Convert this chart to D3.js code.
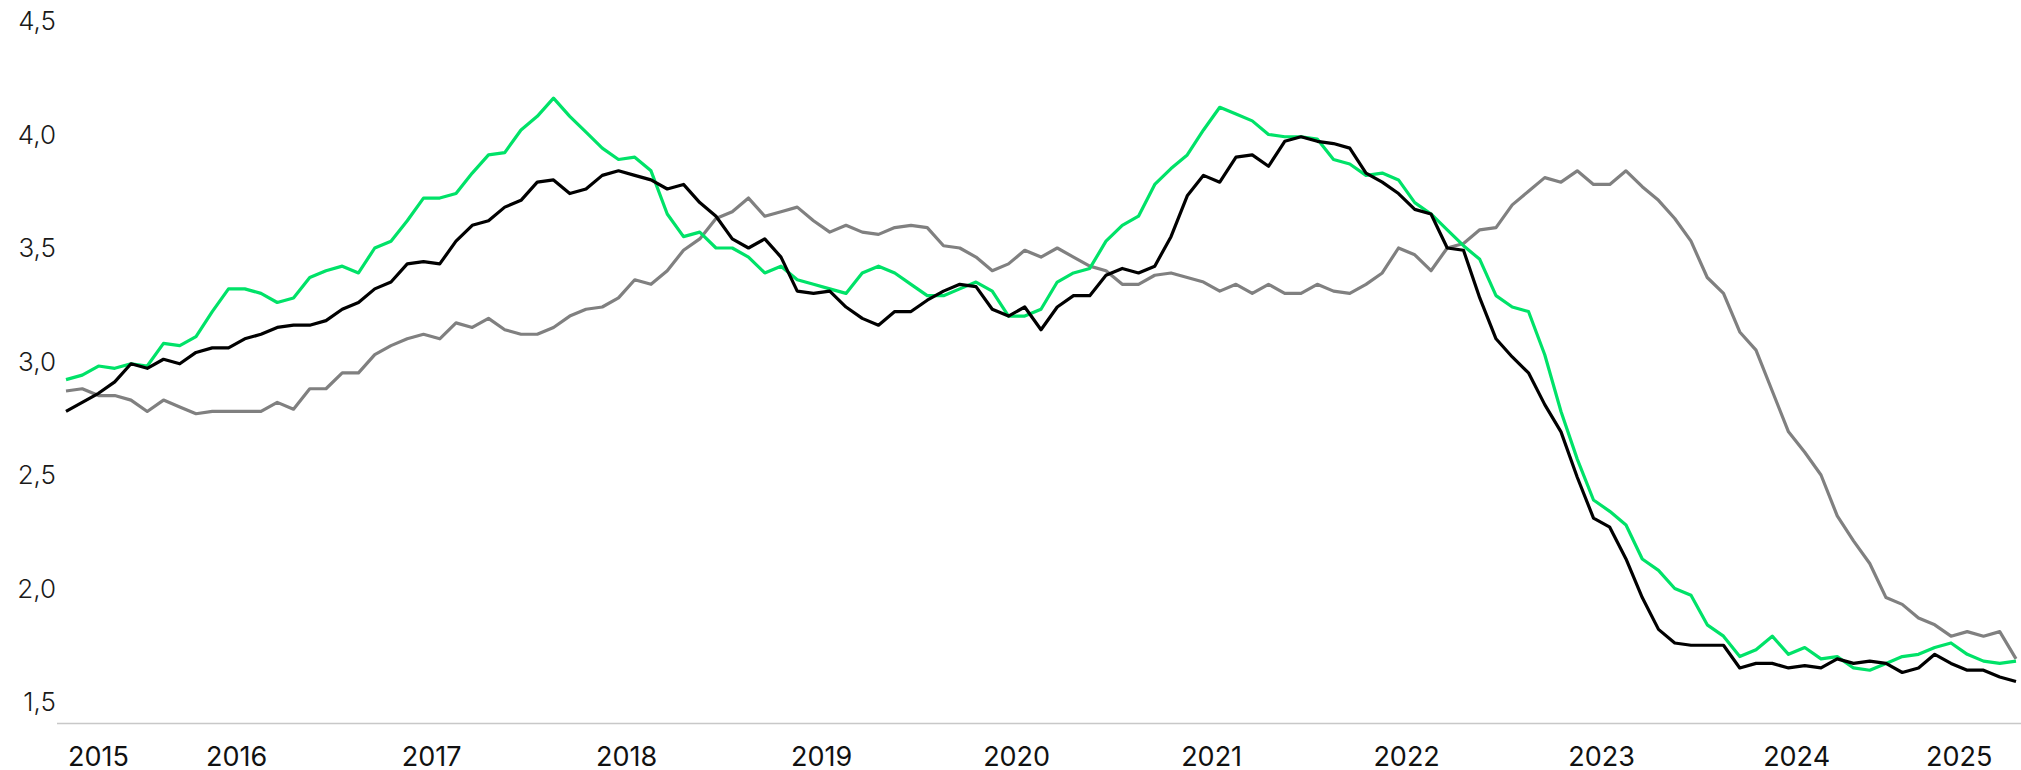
<!DOCTYPE html>
<html>
<head>
<meta charset="utf-8">
<script src="https://cdn.jsdelivr.net/npm/d3@7"></script>
<style>
  body { margin: 0; background: #fff; }
  svg { display: block; }
  .ylab { font-family: Inter, "Noto Sans", sans-serif; font-weight: 300; font-size: 26px; fill: #1a1a1a; }
  .xlab { font-family: Inter, "Noto Sans", sans-serif; font-weight: 400; font-size: 27px; fill: #111; }
</style>
</head>
<body>
<div id="chart"></div>
<script>
// monthly, Aug 2015 .. Aug 2025
const startMonth = "2015-08";
const years = ["2015", "2016", "2017", "2018", "2019", "2020", "2021", "2022", "2023", "2024", "2025"];
const yTicks = [1.5, 2.0, 2.5, 3.0, 3.5, 4.0, 4.5];

const greenSeries = [
  2.92, 2.94, 2.98, 2.97, 2.99, 2.98, 3.08, 3.07, 3.11, 3.22, 3.32, 3.32, 3.30, 3.26, 3.28, 3.37,
  3.40, 3.42, 3.39, 3.50, 3.53, 3.62, 3.72, 3.72, 3.74, 3.83, 3.91, 3.92, 4.02, 4.08, 4.16, 4.08,
  4.01, 3.94, 3.89, 3.90, 3.84, 3.65, 3.55, 3.57, 3.50, 3.50, 3.46, 3.39, 3.42, 3.36, 3.34, 3.32,
  3.30, 3.39, 3.42, 3.39, 3.34, 3.29, 3.29, 3.32, 3.35, 3.31, 3.20, 3.20, 3.23, 3.35, 3.39, 3.41,
  3.53, 3.60, 3.64, 3.78, 3.85, 3.91, 4.02, 4.12, 4.09, 4.06, 4.00, 3.99, 3.99, 3.98, 3.89, 3.87,
  3.82, 3.83, 3.80, 3.70, 3.65, 3.58, 3.51, 3.45, 3.29, 3.24, 3.22, 3.03, 2.78, 2.57, 2.39, 2.34,
  2.28, 2.13, 2.08, 2.00, 1.97, 1.84, 1.79, 1.70, 1.73, 1.79, 1.71, 1.74, 1.69, 1.70, 1.65, 1.64,
  1.67, 1.70, 1.71, 1.74, 1.76, 1.71, 1.68, 1.67, 1.68
];

const blackSeries = [
  2.78, 2.82, 2.86, 2.91, 2.99, 2.97, 3.01, 2.99, 3.04, 3.06, 3.06, 3.10, 3.12, 3.15, 3.16, 3.16,
  3.18, 3.23, 3.26, 3.32, 3.35, 3.43, 3.44, 3.43, 3.53, 3.60, 3.62, 3.68, 3.71, 3.79, 3.80, 3.74,
  3.76, 3.82, 3.84, 3.82, 3.80, 3.76, 3.78, 3.70, 3.64, 3.54, 3.50, 3.54, 3.46, 3.31, 3.30, 3.31,
  3.24, 3.19, 3.16, 3.22, 3.22, 3.27, 3.31, 3.34, 3.33, 3.23, 3.20, 3.24, 3.14, 3.24, 3.29, 3.29,
  3.38, 3.41, 3.39, 3.42, 3.55, 3.73, 3.82, 3.79, 3.90, 3.91, 3.86, 3.97, 3.99, 3.97, 3.96, 3.94,
  3.83, 3.79, 3.74, 3.67, 3.65, 3.50, 3.49, 3.28, 3.10, 3.02, 2.95, 2.81, 2.69, 2.49, 2.31, 2.27,
  2.13, 1.96, 1.82, 1.76, 1.75, 1.75, 1.75, 1.65, 1.67, 1.67, 1.65, 1.66, 1.65, 1.69, 1.67, 1.68,
  1.67, 1.63, 1.65, 1.71, 1.67, 1.64, 1.64, 1.61, 1.59
];

const greySeries = [
  2.87, 2.88, 2.85, 2.85, 2.83, 2.78, 2.83, 2.80, 2.77, 2.78, 2.78, 2.78, 2.78, 2.82, 2.79, 2.88,
  2.88, 2.95, 2.95, 3.03, 3.07, 3.10, 3.12, 3.10, 3.17, 3.15, 3.19, 3.14, 3.12, 3.12, 3.15, 3.20,
  3.23, 3.24, 3.28, 3.36, 3.34, 3.40, 3.49, 3.54, 3.63, 3.66, 3.72, 3.64, 3.66, 3.68, 3.62, 3.57,
  3.60, 3.57, 3.56, 3.59, 3.60, 3.59, 3.51, 3.50, 3.46, 3.40, 3.43, 3.49, 3.46, 3.50, 3.46, 3.42,
  3.40, 3.34, 3.34, 3.38, 3.39, 3.37, 3.35, 3.31, 3.34, 3.30, 3.34, 3.30, 3.30, 3.34, 3.31, 3.30,
  3.34, 3.39, 3.50, 3.47, 3.40, 3.50, 3.52, 3.58, 3.59, 3.69, 3.75, 3.81, 3.79, 3.84, 3.78, 3.78,
  3.84, 3.77, 3.71, 3.63, 3.53, 3.37, 3.30, 3.13, 3.05, 2.87, 2.69, 2.60, 2.50, 2.32, 2.21, 2.11,
  1.96, 1.93, 1.87, 1.84, 1.79, 1.81, 1.79, 1.81, 1.69
];

const width = 2021, height = 770;
const parseMonth = d3.utcParse("%Y-%m");
const start = parseMonth(startMonth);
const dates = greenSeries.map((d, i) => d3.utcMonth.offset(start, i));

const x = d3.scalePoint()
    .domain(dates.map(d => +d))
    .range([66, 2016]);

const y = d3.scaleLinear()
    .domain([1.5, 4.5])
    .range([702, 21]);

const svg = d3.select("#chart")
  .append("svg")
    .attr("width", width)
    .attr("height", height);

// baseline
svg.append("line")
    .attr("x1", 57)
    .attr("x2", width)
    .attr("y1", y(1.5) + 21.5)
    .attr("y2", y(1.5) + 21.5)
    .attr("stroke", "#c8c8c8")
    .attr("stroke-width", 1.5);

// y labels
const fmt = d3.format(".1f");
svg.selectAll(".ylab")
  .data(yTicks)
  .enter()
  .append("text")
    .attr("class", "ylab")
    .attr("x", 56)
    .attr("y", d => y(d))
    .attr("dy", "0.35em")
    .attr("text-anchor", "end")
    .text(d => fmt(d).replace(".", ","));

// x labels, centred on the months of each year that are shown
svg.selectAll(".xlab")
  .data(years)
  .enter()
  .append("text")
    .attr("class", "xlab")
    .attr("x", yr => {
      const xs = dates.filter(d => d.getUTCFullYear() === +yr).map(d => x(+d));
      return (d3.min(xs) + d3.max(xs)) / 2;
    })
    .attr("y", 766)
    .attr("text-anchor", "middle")
    .text(d => d);

const line = d3.line()
    .x((d, i) => x(+dates[i]))
    .y(d => y(d));

const series = [
  { values: greySeries, color: "#808080" },
  { values: greenSeries, color: "#00e268" },
  { values: blackSeries, color: "#000000" }
];

svg.selectAll(".series")
  .data(series)
  .enter()
  .append("path")
    .attr("class", "series")
    .attr("d", d => line(d.values))
    .attr("fill", "none")
    .attr("stroke", d => d.color)
    .attr("stroke-width", 3.2)
    .attr("stroke-linejoin", "round");
</script>
</body>
</html>
